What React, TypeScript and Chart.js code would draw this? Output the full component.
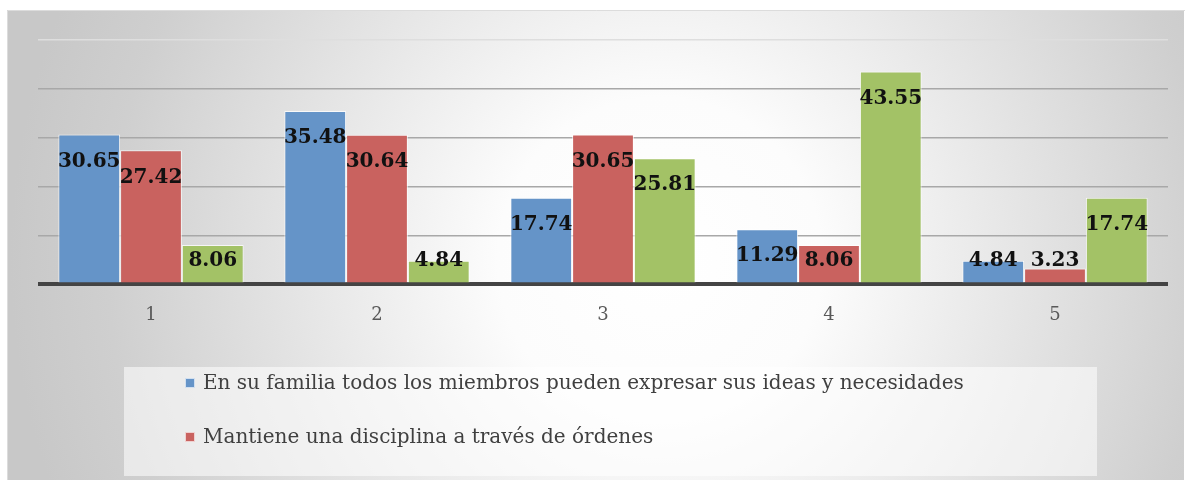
import React, { useEffect, useRef } from "react";
import { Chart, registerables } from "chart.js";

Chart.register(...registerables);

const categories = ["1", "2", "3", "4", "5"];
const seriesNames = [
  "En su familia todos los miembros pueden expresar sus ideas y necesidades",
  "Mantiene una disciplina a través de órdenes",
  "Serie 3",
];
const serie1 = [30.65, 35.48, 17.74, 11.29, 4.84];
const serie2 = [27.42, 30.64, 30.65, 8.06, 3.23];
const serie3 = [8.06, 4.84, 25.81, 43.55, 17.74];
const yMax = 50;
const yStep = 10;

const colors = ["#6594C8", "#C9625F", "#A3C266"];

const bgPlugin = {
  id: "bgPlugin",
  beforeDraw(chart: any) {
    const { ctx, width, height } = chart;
    ctx.save();
    ctx.fillStyle = "#ffffff";
    ctx.fillRect(0, 0, width, height);
    const g = ctx.createRadialGradient(660, 260, 0, 660, 260, 650);
    g.addColorStop(0, "#ffffff");
    g.addColorStop(0.25, "#fcfcfc");
    g.addColorStop(0.85, "#cfcfcf");
    g.addColorStop(1, "#c8c8c8");
    ctx.fillStyle = g;
    ctx.fillRect(7, 10, width - 8, height - 10);
    ctx.strokeStyle = "#dcdcdc";
    ctx.lineWidth = 1;
    ctx.beginPath();
    ctx.moveTo(7.5, height);
    ctx.lineTo(7.5, 10.5);
    ctx.lineTo(width, 10.5);
    ctx.stroke();
    ctx.restore();
  },
};

const labelPlugin = {
  id: "labelPlugin",
  afterDatasetsDraw(chart: any) {
    const { ctx, chartArea } = chart;
    ctx.save();
    ctx.font = "bold 20px 'DejaVu Serif'";
    ctx.fillStyle = "#111111";
    ctx.textAlign = "center";
    ctx.textBaseline = "middle";
    chart.data.datasets.forEach((ds: any, di: number) => {
      const meta = chart.getDatasetMeta(di);
      meta.data.forEach((el: any, i: number) => {
        const v = ds.data[i];
        const y = Math.min(el.y + 27, chartArea.bottom - 24);
        ctx.fillText(v.toFixed(2), el.x, y);
      });
    });
    ctx.restore();
  },
};

const legendPlugin = {
  id: "legendPlugin",
  afterDraw(chart: any) {
    const { ctx } = chart;
    ctx.save();
    ctx.fillStyle = "rgba(255,255,255,0.55)";
    ctx.fillRect(124, 367, 973, 109);
    ctx.font = "20px 'DejaVu Serif'";
    ctx.textBaseline = "middle";
    ctx.textAlign = "left";
    const ys = [383, 437];
    for (let i = 0; i < 2; i++) {
      ctx.fillStyle = colors[i];
      ctx.fillRect(185, ys[i] - 5, 10, 10);
      ctx.strokeStyle = "rgba(255,255,255,0.7)";
      ctx.lineWidth = 1;
      ctx.strokeRect(185.5, ys[i] - 4.5, 9, 9);
      ctx.fillStyle = "#404040";
      ctx.fillText(seriesNames[i], 203, ys[i] + 1);
    }
    ctx.restore();
  },
};

export default function App() {
  const ref = useRef<HTMLCanvasElement>(null);
  useEffect(() => {
    if (!ref.current) return;
    const mk = (data: number[], i: number) => ({
      label: seriesNames[i],
      data,
      backgroundColor: colors[i],
      borderColor: "rgba(255,255,255,0.75)",
      borderWidth: 1,
      categoryPercentage: 0.82,
      barPercentage: 1,
    });
    const chart = new Chart(ref.current, {
      type: "bar",
      data: {
        labels: categories,
        datasets: [mk(serie1, 0), mk(serie2, 1), mk(serie3, 2)],
      },
      options: {
        animation: false,
        responsive: false,
        maintainAspectRatio: false,
        layout: { padding: { left: 38, right: 17, top: 40, bottom: 134 } },
        plugins: { legend: { display: false }, tooltip: { enabled: false } },
        scales: {
          x: {
            grid: { display: false, drawTicks: false },
            border: { display: false },
            ticks: {
              padding: 20,
              color: "#595959",
              font: { family: "'DejaVu Serif'", size: 18 },
            },
          },
          y: {
            min: 0,
            max: yMax,
            ticks: { display: false, stepSize: yStep },
            border: { display: false },
            afterFit: (s: any) => {
              s.width = 0;
            },
            grid: {
              drawTicks: false,
              color: (c: any) =>
                c.tick && c.tick.value === 0
                  ? "#444444"
                  : c.tick && c.tick.value === yMax
                  ? "#dedede"
                  : "#a8a8a8",
              lineWidth: (c: any) => (c.tick && c.tick.value === 0 ? 4 : 1.5),
            },
          },
        },
      },
      plugins: [bgPlugin, labelPlugin, legendPlugin],
    });
    return () => chart.destroy();
  }, []);
  return (
    <div style={{ position: "absolute", left: 0, top: 0, width: 1185, height: 480 }}>
      <canvas ref={ref} width={1185} height={480} style={{ display: "block" }} />
    </div>
  );
}
